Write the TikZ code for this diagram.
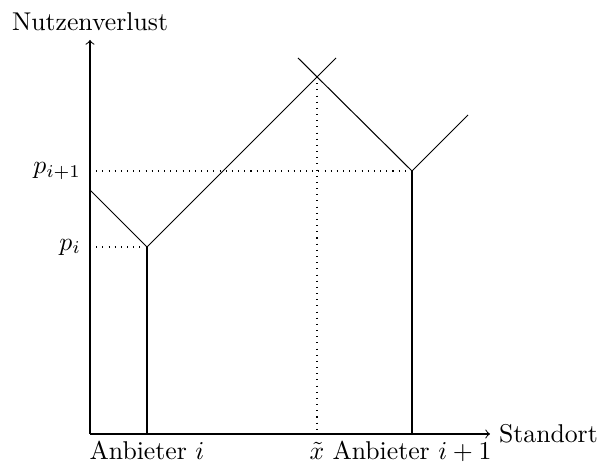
\documentclass[tikz,border=0pt]{standalone}
\begin{document}
\begin{tikzpicture}[x=0.3888pt,y=-0.3888pt,
  axis/.style={->},
  guide/.style={dotted},
  lbl/.style={text height=1.5ex,text depth=0.25ex}]
\useasboundingbox (0,0) rectangle (599,465);
\coordinate (O) at (90,434);
\coordinate (Y) at (90,40);
\coordinate (X) at (490,434);
\coordinate (A) at (147,247);
\coordinate (A0) at (147,434);
\coordinate (B) at (412,171);
\coordinate (B0) at (412,434);
\coordinate (L) at (90,190);
\coordinate (R1) at (336,58);
\coordinate (L2) at (298,58);
\coordinate (R2) at (468,115);
\coordinate (S) at (317,77);
\coordinate (S0) at (317,434);
\coordinate (Pi) at (90,247);
\coordinate (Pj) at (90,171);
\draw[axis] (O) -- (Y) node[above] (ylab) {Nutzenverlust};
\draw[axis] (O) -- (X) node[right] (xlab) {Standort};
\draw (L) -- (A) -- (R1);
\draw (L2) -- (B) -- (R2);
\draw (A) -- (A0);
\draw (B) -- (B0);
\draw[guide] (Pi) -- (A);
\draw[guide] (Pj) -- (B);
\draw[guide] (S) -- (S0);
\node[left] (pi) at (Pi) {$p_i$};
\node[left] (pj) at (Pj) {$p_{i+1}$};
\node[below,lbl] (ai) at (A0) {Anbieter $i$};
\node[below,lbl] (aj) at (B0) {Anbieter $i+1$};
\node[below,lbl] (xt) at (S0) {$\tilde x$};
\end{tikzpicture}
\end{document}
